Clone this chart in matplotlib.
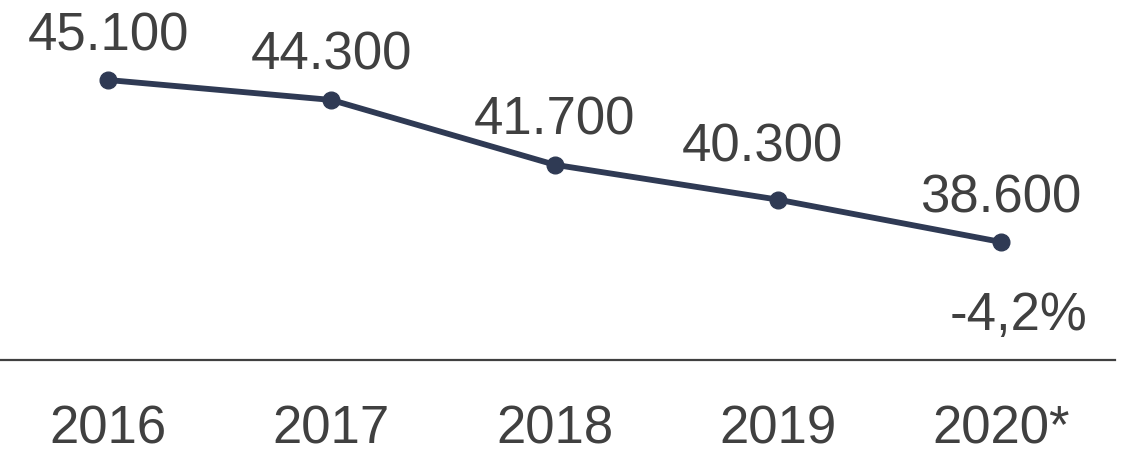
import matplotlib.pyplot as plt

years = ["2016", "2017", "2018", "2019", "2020*"]
values = [45100, 44300, 41700, 40300, 38600]
value_labels = ["45.100", "44.300", "41.700", "40.300", "38.600"]
change_label = "-4,2%"

# pixel offsets of the value labels relative to their points
label_offsets = [(0, 30), (0, 30), (0, 30), (-15, 38), (0, 29)]

LINE_COLOR = "#2f3a54"
TEXT_COLOR = "#404040"

plt.rcParams["font.family"] = ["Liberation Sans", "DejaVu Sans"]

fig = plt.figure(figsize=(11.23, 4.58), dpi=100)
ax = fig.add_axes([0.0, 98 / 458, 1115 / 1123, 360 / 458])

x = list(range(len(years)))
ax.plot(x, values, color=LINE_COLOR, linewidth=4.2, marker="o",
        markersize=12, solid_capstyle="round", zorder=3)

# value labels above each point
for xi, v, lab, off in zip(x, values, value_labels, label_offsets):
    ax.annotate(lab, (xi, v), xytext=off, textcoords="offset pixels",
                ha="center", va="baseline", fontsize=38, color=TEXT_COLOR)

# change label under the last point
ax.annotate(change_label, (x[-1], values[-1]), xytext=(17, -88),
            textcoords="offset pixels", ha="center", va="baseline",
            fontsize=38, color=TEXT_COLOR)

ax.set_xlim(-0.484, 4.51)
ax.set_ylim(33865, 48310)

ax.set_xticks(x)
ax.set_xticklabels(years, fontsize=38, color=TEXT_COLOR)
ax.tick_params(axis="x", length=0, pad=32)
ax.set_yticks([])

for side in ["top", "left", "right"]:
    ax.spines[side].set_visible(False)
ax.spines["bottom"].set_color(TEXT_COLOR)
ax.spines["bottom"].set_linewidth(1.6)

fig.savefig("out.png", dpi=100)
